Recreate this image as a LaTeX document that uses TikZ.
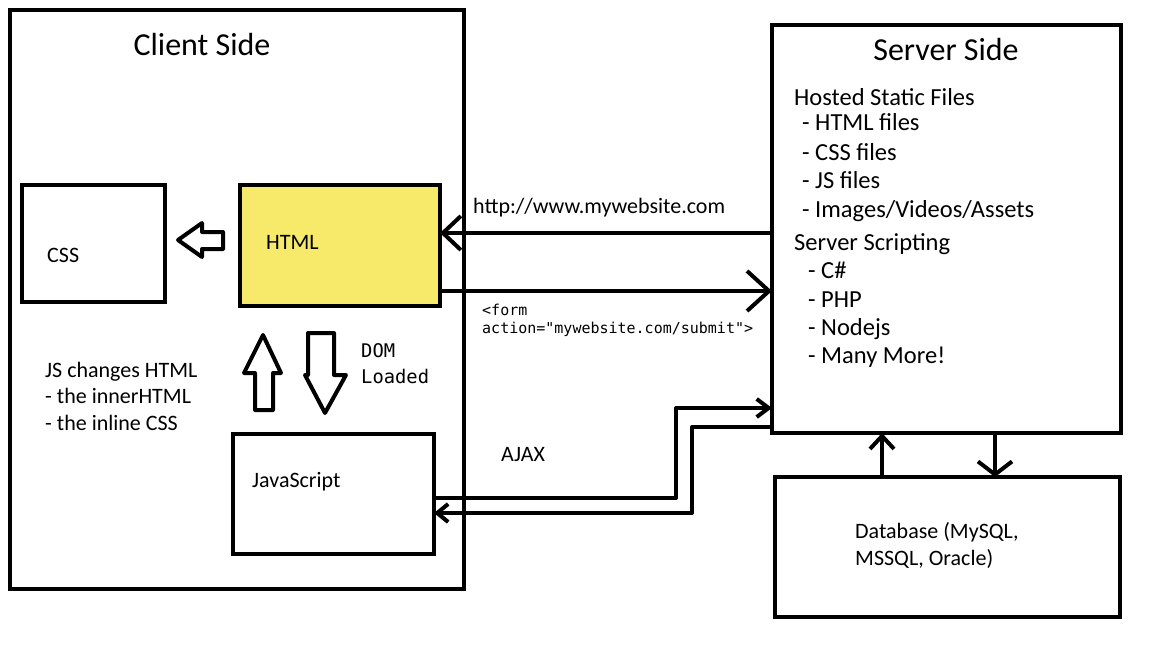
\documentclass[tikz,border=0pt]{standalone}
\usepackage{fontspec}
\setmainfont{Carlito}
\newfontfamily\monofont{DejaVu Sans Mono}
\usetikzlibrary{arrows.meta}
\definecolor{htmlyellow}{HTML}{F7E96A}
\begin{document}
\begin{tikzpicture}[x=1pt,y=-1pt,
  box/.style={draw, line width=4.5pt, inner sep=0pt, outer sep=0pt},
  conn/.style={line width=4pt, line cap=round, line join=round},
  blockarrow/.style={draw, line width=4pt, line join=round},
  lbl/.style={anchor=base west, inner sep=0pt, font=\fontsize{22}{26}\selectfont},
  srv/.style={anchor=base west, inner sep=0pt, font=\fontsize{24.5}{29}\selectfont},
  title/.style={anchor=base, inner sep=0pt, font=\fontsize{32}{38}\selectfont},
  mono/.style={anchor=base west, inner sep=0pt, font=\monofont\fontsize{15}{18}\selectfont},
  monobig/.style={anchor=base west, inner sep=0pt, font=\monofont\fontsize{18.8}{22}\selectfont}]
\useasboundingbox (0,0) rectangle (1152,648);
\fill[white] (0,0) rectangle (1152,648);

% boxes
\node[box, minimum width=454pt, minimum height=579pt] (client) at (237,299.5) {};
\node[box, minimum width=143pt, minimum height=117pt] (css) at (93.5,243.5) {};
\node[box, fill=htmlyellow, minimum width=200pt, minimum height=121pt] (html) at (340,245.5) {};
\node[box, minimum width=201pt, minimum height=120pt] (js) at (333.5,494) {};
\node[box, minimum width=349pt, minimum height=408pt] (server) at (946.5,229) {};
\node[box, minimum width=345pt, minimum height=140pt] (db) at (947.5,547) {};

% titles
\node[title] (ctitle) at (202,55) {Client Side};
\node[title] (stitle) at (946,60) {Server Side};

% box labels
\node[lbl] (csstext) at (47,262) {CSS};
\node[lbl] (htmltext) at (266,249) {HTML};
\node[lbl] (jstext) at (252,487) {JavaScript};
\node[lbl] (dbt1) at (855,538) {Database (MySQL,};
\node[lbl] (dbt2) at (855,565) {MSSQL, Oracle)};

% left notes
\node[lbl] (n1) at (45,377) {JS changes HTML};
\node[lbl] (n2) at (45,403) {- the innerHTML};
\node[lbl] (n3) at (45,430) {- the inline CSS};

% server list
\node[srv] (s1) at (794,105) {Hosted Static Files};
\node[srv] (s2) at (802,130) {- HTML files};
\node[srv] (s3) at (802,160) {- CSS files};
\node[srv] (s4) at (802,188) {- JS files};
\node[srv] (s5) at (802,217) {- Images/Videos/Assets};
\node[srv] (s6) at (794,250) {Server Scripting};
\node[srv] (s7) at (808,278) {- C\#};
\node[srv] (s8) at (808,307) {- PHP};
\node[srv] (s9) at (808,335) {- Nodejs};
\node[srv] (s10) at (808,363) {- Many More!};

% connector labels
\node[lbl] (httpl) at (473,213) {http://www.mywebsite.com};
\node[mono] (form1) at (482,315) {<form};
\node[mono] (form2) at (482,333) {action="mywebsite.com/submit">};
\node[monobig] (dom1) at (361,357) {DOM};
\node[monobig] (dom2) at (361,383) {Loaded};
\node[lbl] (ajaxl) at (501,461) {AJAX};

% helper coordinates
\coordinate (hy) at (0,233);
\coordinate (fy) at (0,291);
\coordinate (a1) at (0,498);
\coordinate (a2) at (676,408);
\coordinate (b2) at (0,427);
\coordinate (b1) at (692,513);
\coordinate (u) at (882,0);
\coordinate (d) at (995,0);

% connectors
\draw[conn, -{Straight Barb[length=18pt,width=34pt]}] (server.west |- hy) -- (html.east |- hy);
\draw[conn, -{Straight Barb[length=22pt,width=40pt]}] (html.east |- fy) -- (server.west |- fy);
\draw[conn, -{Straight Barb[length=12pt,width=18pt]}] (js.east |- a1) -| (a2) -- (server.west |- a2);
\draw[conn, -{Straight Barb[length=11pt,width=18pt]}] (server.west |- b2) -| (b1) -- (js.east |- b1);
\draw[conn, -{Straight Barb[length=13pt,width=24pt]}] (db.north -| u) -- (server.south -| u);
\draw[conn, -{Straight Barb[length=13pt,width=34pt]}] (server.south -| d) -- (db.north -| d);

% block arrows
\draw[blockarrow] (178,240) -- (202,223) -- (202,232) -- (223,232) -- (223,249) -- (202,249) -- (202,257) -- cycle;
\draw[blockarrow] (263,335) -- (281,373) -- (273,373) -- (273,410) -- (255,410) -- (255,373) -- (244,373) -- cycle;
\draw[blockarrow] (308,333) -- (334,333) -- (334,375) -- (346,375) -- (325,413) -- (305,375) -- (308,375) -- cycle;
\end{tikzpicture}
\end{document}
